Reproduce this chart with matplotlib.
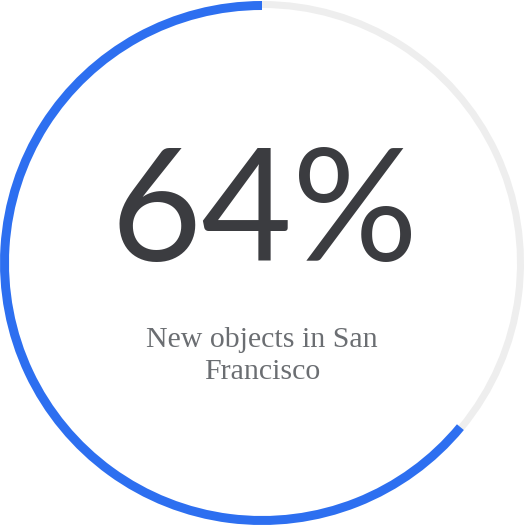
import matplotlib.pyplot as plt
from matplotlib.patches import Wedge

value = 64
label_big = "64%"
caption = "New objects in San\nFrancisco"

blue = "#2d6ff0"
grey = "#eeeeee"

W, H = 524, 526
fig = plt.figure(figsize=(W / 100, H / 100), dpi=100)
ax = fig.add_axes([0, 0, 1, 1])
ax.set_xlim(0, W)
ax.set_ylim(0, H)
ax.set_aspect("equal")
ax.axis("off")

cx, cy, r = 262, 263, 262
start = 90
end = start + 360 * value / 100

ax.add_patch(Wedge((cx, cy), r, end, start + 360, width=7, color=grey, lw=0))
ax.add_patch(Wedge((cx, cy), r, start, end, width=9, color=blue, lw=0))

# y measured from bottom
ax.text(cx + 2, 310, label_big, ha="center", va="center", fontsize=113,
        family="Lato", fontweight="normal", color="#3b3c40")
ax.text(cx, 170, caption, ha="center", va="center", fontsize=21.5,
        family="Liberation Serif", color="#6b6e72", linespacing=1.3)

fig.savefig("out.png", dpi=100)
